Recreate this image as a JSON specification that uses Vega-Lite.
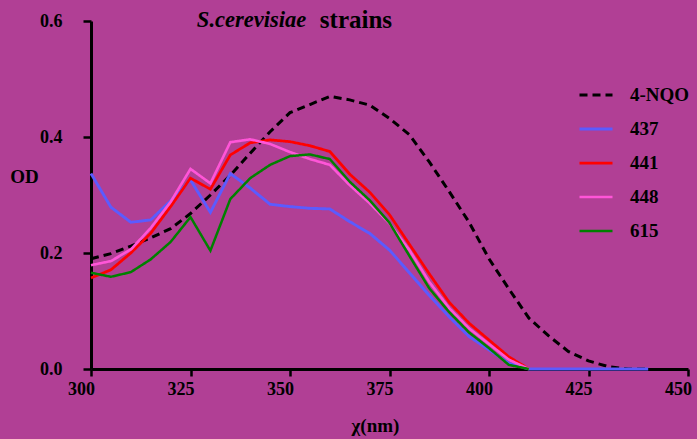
{
  "$schema": "https://vega.github.io/schema/vega-lite/v6.json",
  "width": 597,
  "height": 348,
  "autosize": {"type": "none"},
  "padding": {"left": 91, "top": 21, "right": 9, "bottom": 70},
  "background": "#B13F95",
  "config": {
    "view": {"stroke": null},
    "font": "Liberation Serif",
    "axis": {
      "grid": false,
      "domainColor": "#000000",
      "domainWidth": 3,
      "tickColor": "#000000",
      "tickWidth": 2.5,
      "labelColor": "#000000",
      "labelFont": "Liberation Serif",
      "labelFontWeight": "bold",
      "labelFontSize": 18,
      "labelFlush": false,
      "labelOverlap": false,
      "titleColor": "#000000",
      "titleFont": "Liberation Serif",
      "titleFontWeight": "bold",
      "titleFontSize": 19
    }
  },
  "layer": [
    {
      "data": {
        "values": [
          {"x": 300, "od": 0.19, "s": "4-NQO"}, {"x": 305, "od": 0.199, "s": "4-NQO"}, {"x": 310, "od": 0.212, "s": "4-NQO"}, {"x": 315, "od": 0.226, "s": "4-NQO"}, {"x": 320, "od": 0.242, "s": "4-NQO"}, {"x": 325, "od": 0.268, "s": "4-NQO"}, {"x": 330, "od": 0.3, "s": "4-NQO"}, {"x": 335, "od": 0.334, "s": "4-NQO"}, {"x": 340, "od": 0.372, "s": "4-NQO"}, {"x": 345, "od": 0.409, "s": "4-NQO"}, {"x": 350, "od": 0.442, "s": "4-NQO"}, {"x": 355, "od": 0.456, "s": "4-NQO"}, {"x": 360, "od": 0.47, "s": "4-NQO"}, {"x": 365, "od": 0.464, "s": "4-NQO"}, {"x": 370, "od": 0.455, "s": "4-NQO"}, {"x": 375, "od": 0.432, "s": "4-NQO"}, {"x": 380, "od": 0.404, "s": "4-NQO"}, {"x": 385, "od": 0.357, "s": "4-NQO"}, {"x": 390, "od": 0.306, "s": "4-NQO"}, {"x": 395, "od": 0.253, "s": "4-NQO"}, {"x": 400, "od": 0.19, "s": "4-NQO"}, {"x": 405, "od": 0.138, "s": "4-NQO"}, {"x": 410, "od": 0.088, "s": "4-NQO"}, {"x": 415, "od": 0.057, "s": "4-NQO"}, {"x": 420, "od": 0.03, "s": "4-NQO"}, {"x": 425, "od": 0.014, "s": "4-NQO"}, {"x": 430, "od": 0.004, "s": "4-NQO"}, {"x": 435, "od": 0, "s": "4-NQO"}, {"x": 440, "od": 0, "s": "4-NQO"},
          {"x": 300, "od": 0.337, "s": "437"}, {"x": 305, "od": 0.279, "s": "437"}, {"x": 310, "od": 0.253, "s": "437"}, {"x": 315, "od": 0.257, "s": "437"}, {"x": 320, "od": 0.29, "s": "437"}, {"x": 325, "od": 0.326, "s": "437"}, {"x": 330, "od": 0.27, "s": "437"}, {"x": 335, "od": 0.337, "s": "437"}, {"x": 340, "od": 0.312, "s": "437"}, {"x": 345, "od": 0.284, "s": "437"}, {"x": 350, "od": 0.28, "s": "437"}, {"x": 355, "od": 0.277, "s": "437"}, {"x": 360, "od": 0.276, "s": "437"}, {"x": 365, "od": 0.254, "s": "437"}, {"x": 370, "od": 0.234, "s": "437"}, {"x": 375, "od": 0.205, "s": "437"}, {"x": 380, "od": 0.166, "s": "437"}, {"x": 385, "od": 0.127, "s": "437"}, {"x": 390, "od": 0.09, "s": "437"}, {"x": 395, "od": 0.056, "s": "437"}, {"x": 400, "od": 0.033, "s": "437"}, {"x": 405, "od": 0.01, "s": "437"}, {"x": 410, "od": 0, "s": "437"}, {"x": 415, "od": 0, "s": "437"}, {"x": 420, "od": 0, "s": "437"}, {"x": 425, "od": 0, "s": "437"}, {"x": 430, "od": 0, "s": "437"}, {"x": 435, "od": 0, "s": "437"}, {"x": 440, "od": 0, "s": "437"},
          {"x": 300, "od": 0.157, "s": "441"}, {"x": 305, "od": 0.171, "s": "441"}, {"x": 310, "od": 0.2, "s": "441"}, {"x": 315, "od": 0.234, "s": "441"}, {"x": 320, "od": 0.28, "s": "441"}, {"x": 325, "od": 0.329, "s": "441"}, {"x": 330, "od": 0.31, "s": "441"}, {"x": 335, "od": 0.369, "s": "441"}, {"x": 340, "od": 0.39, "s": "441"}, {"x": 345, "od": 0.395, "s": "441"}, {"x": 350, "od": 0.392, "s": "441"}, {"x": 355, "od": 0.385, "s": "441"}, {"x": 360, "od": 0.375, "s": "441"}, {"x": 365, "od": 0.336, "s": "441"}, {"x": 370, "od": 0.305, "s": "441"}, {"x": 375, "od": 0.266, "s": "441"}, {"x": 380, "od": 0.215, "s": "441"}, {"x": 385, "od": 0.164, "s": "441"}, {"x": 390, "od": 0.115, "s": "441"}, {"x": 395, "od": 0.079, "s": "441"}, {"x": 400, "od": 0.05, "s": "441"}, {"x": 405, "od": 0.021, "s": "441"}, {"x": 410, "od": 0, "s": "441"},
          {"x": 300, "od": 0.179, "s": "448"}, {"x": 305, "od": 0.186, "s": "448"}, {"x": 310, "od": 0.206, "s": "448"}, {"x": 315, "od": 0.243, "s": "448"}, {"x": 320, "od": 0.288, "s": "448"}, {"x": 325, "od": 0.345, "s": "448"}, {"x": 330, "od": 0.32, "s": "448"}, {"x": 335, "od": 0.391, "s": "448"}, {"x": 340, "od": 0.396, "s": "448"}, {"x": 345, "od": 0.388, "s": "448"}, {"x": 350, "od": 0.374, "s": "448"}, {"x": 355, "od": 0.362, "s": "448"}, {"x": 360, "od": 0.352, "s": "448"}, {"x": 365, "od": 0.317, "s": "448"}, {"x": 370, "od": 0.286, "s": "448"}, {"x": 375, "od": 0.251, "s": "448"}, {"x": 380, "od": 0.205, "s": "448"}, {"x": 385, "od": 0.15, "s": "448"}, {"x": 390, "od": 0.105, "s": "448"}, {"x": 395, "od": 0.07, "s": "448"}, {"x": 400, "od": 0.043, "s": "448"}, {"x": 405, "od": 0.016, "s": "448"}, {"x": 410, "od": 0, "s": "448"},
          {"x": 300, "od": 0.166, "s": "615"}, {"x": 305, "od": 0.159, "s": "615"}, {"x": 310, "od": 0.167, "s": "615"}, {"x": 315, "od": 0.189, "s": "615"}, {"x": 320, "od": 0.219, "s": "615"}, {"x": 325, "od": 0.262, "s": "615"}, {"x": 330, "od": 0.204, "s": "615"}, {"x": 335, "od": 0.293, "s": "615"}, {"x": 340, "od": 0.329, "s": "615"}, {"x": 345, "od": 0.352, "s": "615"}, {"x": 350, "od": 0.367, "s": "615"}, {"x": 355, "od": 0.37, "s": "615"}, {"x": 360, "od": 0.362, "s": "615"}, {"x": 365, "od": 0.323, "s": "615"}, {"x": 370, "od": 0.291, "s": "615"}, {"x": 375, "od": 0.252, "s": "615"}, {"x": 380, "od": 0.195, "s": "615"}, {"x": 385, "od": 0.139, "s": "615"}, {"x": 390, "od": 0.098, "s": "615"}, {"x": 395, "od": 0.063, "s": "615"}, {"x": 400, "od": 0.036, "s": "615"}, {"x": 405, "od": 0.007, "s": "615"}, {"x": 410, "od": 0, "s": "615"}
        ]
      },
      "mark": {"type": "line", "clip": false},
      "encoding": {
        "x": {
          "field": "x", "type": "quantitative",
          "scale": {"domain": [300, 450], "nice": false, "zero": false},
          "axis": {"values": [300, 325, 350, 375, 400, 425, 450], "tickSize": 7, "labelPadding": 4, "labelOffset": -10, "title": "χ(nm)", "titleX": 284, "titleY": 56, "titleBaseline": "middle", "titleAlign": "center"}
        },
        "y": {
          "field": "od", "type": "quantitative",
          "scale": {"domain": [0, 0.6], "nice": false},
          "axis": {"values": [0, 0.2, 0.4, 0.6], "format": ".1f", "tickSize": 8, "labelPadding": 21, "title": "OD", "titleAngle": 0, "titleX": -67, "titleY": 155, "titleBaseline": "middle", "titleAlign": "center"}
        },
        "color": {
          "field": "s", "type": "nominal",
          "scale": {"domain": ["4-NQO", "437", "441", "448", "615"], "range": ["#000000", "#5B5BFF", "#FF0000", "#FF55D8", "#008000"]},
          "legend": {
            "title": null, "orient": "none", "legendX": 487, "legendY": 56, "padding": 0,
            "symbolType": "stroke", "symbolSize": 1089, "symbolStrokeWidth": 3,
            "labelFont": "Liberation Serif", "labelFontWeight": "bold", "labelFontSize": 19, "labelColor": "#000000",
            "labelOffset": 16, "rowPadding": 6
          }
        },
        "strokeDash": {
          "field": "s", "type": "nominal",
          "scale": {"domain": ["4-NQO", "437", "441", "448", "615"], "range": [[8, 5], [1, 0], [1, 0], [1, 0], [1, 0]]}
        },
        "strokeWidth": {
          "field": "s", "type": "nominal",
          "scale": {"domain": ["4-NQO", "437", "441", "448", "615"], "range": [3, 2.5, 3.5, 3, 3]}
        }
      }
    },
    {
      "data": {"values": [{}]},
      "mark": {"type": "text", "text": "S.cerevisiae", "font": "Liberation Serif", "fontStyle": "italic", "fontWeight": "bold", "fontSize": 22.5, "align": "left", "baseline": "middle", "color": "#000000"},
      "encoding": {"x": {"datum": 326.6, "type": "quantitative"}, "y": {"datum": 0.601, "type": "quantitative"}}
    },
    {
      "data": {"values": [{}]},
      "mark": {"type": "text", "text": "strains", "font": "Liberation Serif", "fontWeight": "bold", "fontSize": 25, "align": "left", "baseline": "middle", "color": "#000000"},
      "encoding": {"x": {"datum": 357.5, "type": "quantitative"}, "y": {"datum": 0.601, "type": "quantitative"}}
    }
  ]
}
